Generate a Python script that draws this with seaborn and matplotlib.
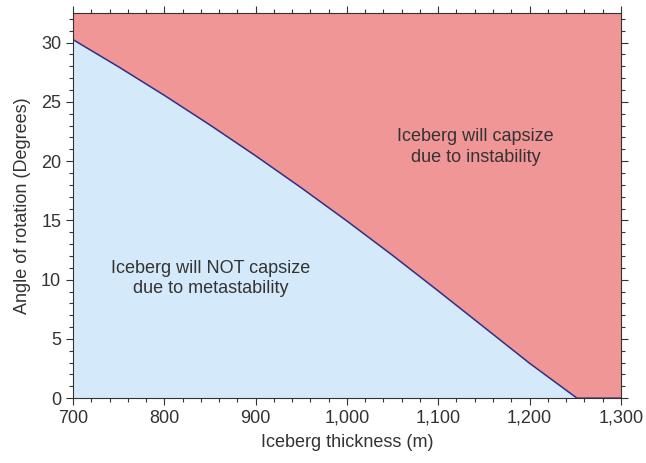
import matplotlib
matplotlib.use("Agg")
import matplotlib.pyplot as plt
import matplotlib.ticker as mticker
import seaborn as sns
import pandas as pd

# Data
thickness = [700, 750, 800, 850, 900, 950, 1000, 1050, 1100, 1150, 1200, 1252, 1300]
angle = [30.25, 27.95, 25.55, 23.05, 20.45, 17.75, 14.95, 12.05, 9.05, 6.0, 2.95, 0.0, 0.0]
x_ticks = [700, 800, 900, 1000, 1100, 1200, 1300]
y_ticks = [0, 5, 10, 15, 20, 25, 30]
label_stable = "Iceberg will NOT capsize\ndue to metastability"
label_unstable = "Iceberg will capsize\ndue to instability"
x_label = "Iceberg thickness (m)"
y_label = "Angle of rotation (Degrees)"

df = pd.DataFrame({"thickness": thickness, "angle": angle})

sns.set_theme(style="ticks")
plt.rcParams["font.family"] = ["Liberation Sans", "DejaVu Sans"]

fig = plt.figure(figsize=(6.46, 4.63), dpi=100)
ax = fig.add_axes([0.113, 0.140, 0.848, 0.832])

ymax = 32.5
red = "#F09696"
blue = "#D4EAFA"
navy = "#2E2E86"
grey = "#333333"

ax.fill_between(df["thickness"], df["angle"], ymax, color=red, linewidth=0, zorder=1)
ax.fill_between(df["thickness"], 0, df["angle"], color=blue, linewidth=0, zorder=1)
sns.lineplot(data=df, x="thickness", y="angle", ax=ax, color=navy, linewidth=1.1, zorder=3)

ax.set_xlim(700, 1300)
ax.set_ylim(0, ymax)
ax.set_xticks(x_ticks)
ax.set_yticks(y_ticks)
ax.xaxis.set_minor_locator(mticker.MultipleLocator(20))
ax.yaxis.set_minor_locator(mticker.MultipleLocator(1))
ax.xaxis.set_major_formatter(mticker.FuncFormatter(lambda v, p: f"{int(v):,}"))

ax.tick_params(which="both", direction="out", top=True, right=True,
               labeltop=False, labelright=False, color=grey, width=0.8,
               labelsize=13, labelcolor=grey)
ax.tick_params(which="major", length=5)
ax.tick_params(which="minor", length=3)
for s in ax.spines.values():
    s.set_color(grey)
    s.set_linewidth(0.8)
    s.set_zorder(4)

ax.set_xlabel(x_label, fontsize=13, color=grey, labelpad=5)
ax.set_ylabel(y_label, fontsize=13, color=grey, labelpad=7)

ax.text(851, 10.1, label_stable, ha="center", va="center", fontsize=13,
        color=grey, linespacing=1.3, zorder=5)
ax.text(1141, 21.2, label_unstable, ha="center", va="center", fontsize=13,
        color=grey, linespacing=1.3, zorder=5)

fig.savefig("out.png", dpi=100)
